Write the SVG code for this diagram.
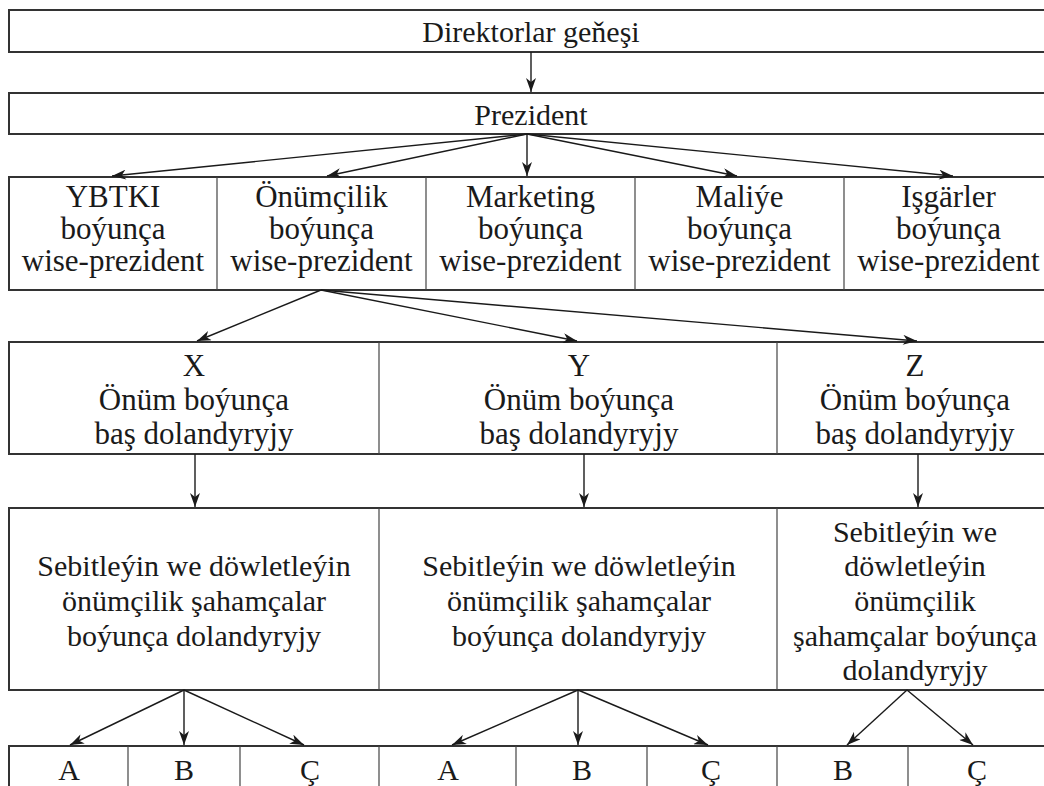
<svg xmlns="http://www.w3.org/2000/svg" width="1044" height="786" viewBox="0 0 1044 786">
<defs>
<style>
.box{fill:#fff;stroke:#333;stroke-width:2}
.div{stroke:#444;stroke-width:1.2}
.t{font-family:"Liberation Serif","Times New Roman",serif;font-size:30px;fill:#1a1a1a;text-anchor:middle}
.m{font-size:31px}
.c{stroke:#1a1a1a;stroke-width:1.4;fill:none;marker-end:url(#ah)}
</style>
<marker id="ah" viewBox="0 0 14 10" refX="14" refY="5" markerWidth="15" markerHeight="10" markerUnits="userSpaceOnUse" orient="auto">
<path d="M0,0 L14,5 L0,10 L4,5 z" fill="#1a1a1a"/>
</marker>
</defs>
<rect width="1044" height="786" fill="#fff"/>

<g id="directors">
<rect class="box" x="9" y="10" width="1044" height="42"/>
<text class="t" x="531" y="42">Direktorlar geňeşi</text>
</g>

<g id="president">
<rect class="box" x="9" y="93" width="1044" height="41"/>
<text class="t" x="531" y="125">Prezident</text>
</g>

<g id="vp-row">
<rect class="box" x="9" y="177" width="1044" height="113"/>
<line class="div" x1="217" y1="177" x2="217" y2="290"/>
<line class="div" x1="426" y1="177" x2="426" y2="290"/>
<line class="div" x1="635" y1="177" x2="635" y2="290"/>
<line class="div" x1="844" y1="177" x2="844" y2="290"/>
</g>
<g id="vp-ybtki"><text class="t m" x="113" y="207">YBTKI</text><text class="t m" x="113" y="239">boýunça</text><text class="t m" x="113" y="271">wise-prezident</text></g>
<g id="vp-onumcilik"><text class="t m" x="321.5" y="207">Önümçilik</text><text class="t m" x="321.5" y="239">boýunça</text><text class="t m" x="321.5" y="271">wise-prezident</text></g>
<g id="vp-marketing"><text class="t m" x="530.5" y="207">Marketing</text><text class="t m" x="530.5" y="239">boýunça</text><text class="t m" x="530.5" y="271">wise-prezident</text></g>
<g id="vp-maliye"><text class="t m" x="739.5" y="207">Maliýe</text><text class="t m" x="739.5" y="239">boýunça</text><text class="t m" x="739.5" y="271">wise-prezident</text></g>
<g id="vp-isgarler"><text class="t m" x="948.5" y="207">Işgärler</text><text class="t m" x="948.5" y="239">boýunça</text><text class="t m" x="948.5" y="271">wise-prezident</text></g>

<g id="product-row">
<rect class="box" x="9" y="342" width="1044" height="112"/>
<line class="div" x1="379" y1="342" x2="379" y2="454"/>
<line class="div" x1="777" y1="342" x2="777" y2="454"/>
</g>
<g id="product-x"><text class="t m" x="194" y="376">X</text><text class="t m" x="194" y="410">Önüm boýunça</text><text class="t m" x="194" y="444">baş dolandyryjy</text></g>
<g id="product-y"><text class="t m" x="579" y="376">Y</text><text class="t m" x="579" y="410">Önüm boýunça</text><text class="t m" x="579" y="444">baş dolandyryjy</text></g>
<g id="product-z"><text class="t m" x="915" y="376">Z</text><text class="t m" x="915" y="410">Önüm boýunça</text><text class="t m" x="915" y="444">baş dolandyryjy</text></g>

<g id="region-row">
<rect class="box" x="9" y="508" width="1044" height="182"/>
<line class="div" x1="379" y1="508" x2="379" y2="690"/>
<line class="div" x1="777" y1="508" x2="777" y2="690"/>
</g>
<g id="region-x"><text class="t" x="194" y="576">Sebitleýin we döwletleýin</text><text class="t" x="194" y="611">önümçilik şahamçalar</text><text class="t" x="194" y="646">boýunça dolandyryjy</text></g>
<g id="region-y"><text class="t" x="579" y="576">Sebitleýin we döwletleýin</text><text class="t" x="579" y="611">önümçilik şahamçalar</text><text class="t" x="579" y="646">boýunça dolandyryjy</text></g>
<g id="region-z"><text class="t" x="915" y="542">Sebitleýin we</text><text class="t" x="915" y="576">döwletleýin</text><text class="t" x="915" y="611">önümçilik</text><text class="t" x="915" y="646">şahamçalar boýunça</text><text class="t" x="915" y="680">dolandyryjy</text></g>

<g id="branch-row">
<rect class="box" x="9" y="746" width="1044" height="60"/>
<line class="div" x1="128" y1="746" x2="128" y2="786"/>
<line class="div" x1="240" y1="746" x2="240" y2="786"/>
<line class="div" x1="379" y1="746" x2="379" y2="786"/>
<line class="div" x1="516" y1="746" x2="516" y2="786"/>
<line class="div" x1="647" y1="746" x2="647" y2="786"/>
<line class="div" x1="777" y1="746" x2="777" y2="786"/>
<line class="div" x1="908" y1="746" x2="908" y2="786"/>
</g>
<g id="branch-xa"><text class="t" x="69" y="780">A</text></g>
<g id="branch-xb"><text class="t" x="184" y="780">B</text></g>
<g id="branch-xc"><text class="t" x="310" y="780">Ç</text></g>
<g id="branch-ya"><text class="t" x="448" y="780">A</text></g>
<g id="branch-yb"><text class="t" x="582" y="780">B</text></g>
<g id="branch-yc"><text class="t" x="711" y="780">Ç</text></g>
<g id="branch-zb"><text class="t" x="843" y="780">B</text></g>
<g id="branch-zc"><text class="t" x="977" y="780">Ç</text></g>

<g id="connectors">
<line class="c" x1="531" y1="52" x2="531" y2="92"/>
<line class="c" x1="527" y1="134" x2="112" y2="176"/>
<line class="c" x1="527" y1="134" x2="327" y2="176"/>
<line class="c" x1="527" y1="134" x2="527" y2="176"/>
<line class="c" x1="527" y1="134" x2="737" y2="176"/>
<line class="c" x1="527" y1="134" x2="953" y2="176"/>
<line class="c" x1="321" y1="290" x2="197" y2="341"/>
<line class="c" x1="321" y1="290" x2="577" y2="341"/>
<line class="c" x1="321" y1="290" x2="917" y2="341"/>
<line class="c" x1="195" y1="454" x2="195" y2="507"/>
<line class="c" x1="584" y1="454" x2="584" y2="507"/>
<line class="c" x1="918" y1="454" x2="918" y2="507"/>
<line class="c" x1="184" y1="690" x2="70" y2="745"/>
<line class="c" x1="184" y1="690" x2="184" y2="745"/>
<line class="c" x1="184" y1="690" x2="304" y2="745"/>
<line class="c" x1="578" y1="690" x2="452" y2="745"/>
<line class="c" x1="578" y1="690" x2="578" y2="745"/>
<line class="c" x1="578" y1="690" x2="708" y2="745"/>
<line class="c" x1="907" y1="690" x2="847" y2="745"/>
<line class="c" x1="907" y1="690" x2="973" y2="745"/>
</g>
</svg>
